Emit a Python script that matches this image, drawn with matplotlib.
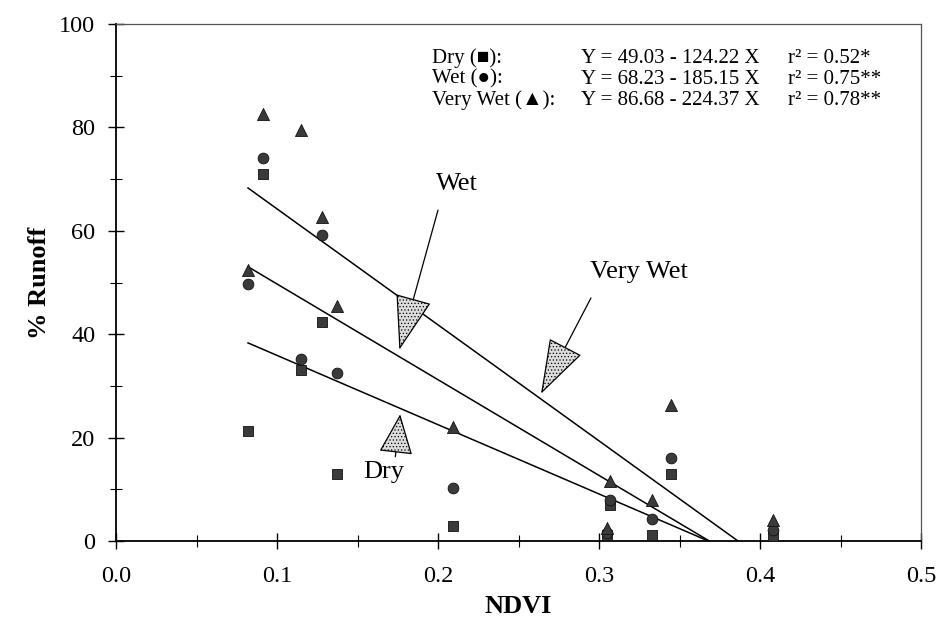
import numpy as np
import matplotlib
matplotlib.use('Agg')
import matplotlib.pyplot as plt
from matplotlib.patches import FancyArrowPatch

plt.rcParams['font.family'] = ['Liberation Serif', 'DejaVu Sans']
plt.rcParams['hatch.color'] = '#9a9a9a'
plt.rcParams['hatch.linewidth'] = 0.5

# === data ===
ndvi = [0.082, 0.091, 0.115, 0.128, 0.137, 0.2095, 0.305, 0.307, 0.333, 0.345, 0.408]
dry = [21.3, 71.0, 33.1, 42.4, 13.0, 2.9, 1.2, 7.0, 1.2, 13.0, 1.0]
wet = [49.7, 74.1, 35.2, 59.2, 32.5, 10.3, 1.5, 7.9, 4.2, 16.0, 2.1]
very_wet = [52.4, 82.5, 79.5, 62.7, 45.5, 22.0, 2.5, 11.6, 7.9, 26.3, 4.1]

# regression lines as drawn (intercept, slope); the drawn dry line is a bit steeper
# than the printed equation
line_names = ['Dry', 'Wet', 'Very Wet']
line_b0 = [49.3, 68.23, 86.68]
line_b1 = [-134.0, -185.15, -224.37]
line_x0 = 0.082

eq_labels = ['Dry (\u25A0):', 'Wet (\u25CF):', 'Very Wet (\u25B2):']
eq_texts = ['Y = 49.03 - 124.22 X', 'Y = 68.23 - 185.15 X', 'Y = 86.68 - 224.37 X']
r2_texts = ['r\u00b2 = 0.52*', 'r\u00b2 = 0.75**', 'r\u00b2 = 0.78**']

x_ticks = [0.0, 0.1, 0.2, 0.3, 0.4, 0.5]
y_ticks = [0, 20, 40, 60, 80, 100]

fig = plt.figure(figsize=(9.36, 6.35), dpi=100)
ax = fig.add_axes([116/936, 1 - 541/635, (921 - 116)/936, (541 - 24)/635])

mc = '#3a3a3a'
ax.scatter(ndvi, dry, marker='s', s=55, color=mc, edgecolors='#111111', linewidths=0.6, zorder=3)
ax.scatter(ndvi, wet, marker='o', s=60, color=mc, edgecolors='#111111', linewidths=0.6, zorder=3)
ax.scatter(ndvi, very_wet, marker='^', s=75, color=mc, edgecolors='#111111', linewidths=0.6, zorder=3)

for b0, b1 in zip(line_b0, line_b1):
    x1 = -b0 / b1
    xs = np.array([line_x0, x1])
    ax.plot(xs, b0 + b1 * xs, color='black', lw=1.1, zorder=2)

# arrows pointing at the lines
def callout(text, xy_text, xy_tail, xy_tip, hl=1.8, hw=0.6):
    ax.text(*xy_text, text, fontsize=19, ha='center', va='center')
    ax.add_patch(FancyArrowPatch(xy_tail, xy_tip,
                                 arrowstyle='-|>,head_length=%s,head_width=%s' % (hl, hw),
                                 mutation_scale=20, lw=0.9, edgecolor='black',
                                 facecolor='#dcdcdc', hatch='.....',
                                 shrinkA=0, shrinkB=0, zorder=4))

callout('Wet', (0.212, 69), (0.200, 64), (0.176, 37))
callout('Very Wet', (0.325, 52), (0.295, 47), (0.264, 28.5))
callout('Dry', (0.166, 13.3), (0.1735, 16.3), (0.1765, 24.5), hl=1.3, hw=0.55)

# equation block
for i in range(3):
    yy = 0.934 - i * 0.041
    ax.text(0.392, yy, eq_labels[i], transform=ax.transAxes, fontsize=15, va='center')
    ax.text(0.578, yy, eq_texts[i], transform=ax.transAxes, fontsize=15, va='center')
    ax.text(0.835, yy, r2_texts[i], transform=ax.transAxes, fontsize=15, va='center')

ax.set_xlim(0, 0.5)
ax.set_ylim(0, 100)
ax.set_xticks(x_ticks)
ax.set_xticklabels(['%.1f' % v for v in x_ticks])
ax.set_yticks(y_ticks)
ax.set_xticks(np.arange(0.05, 0.5, 0.1), minor=True)
ax.set_yticks(np.arange(10, 100, 20), minor=True)
ax.tick_params(which='major', direction='inout', length=12, width=1, labelsize=17.5)
ax.tick_params(axis='x', which='major', pad=12)
ax.tick_params(axis='y', which='major', pad=9)
ax.tick_params(which='minor', direction='inout', length=9, width=0.8)

for s in ['left', 'bottom']:
    ax.spines[s].set_linewidth(1.3)
for s in ['top', 'right']:
    ax.spines[s].set_linewidth(0.9)
    ax.spines[s].set_color('#555555')

ax.set_xlabel('NDVI', fontsize=19, fontweight='bold', labelpad=6)
ax.set_ylabel('% Runoff', fontsize=19, fontweight='bold', labelpad=6)

fig.savefig('out.png', dpi=100)
